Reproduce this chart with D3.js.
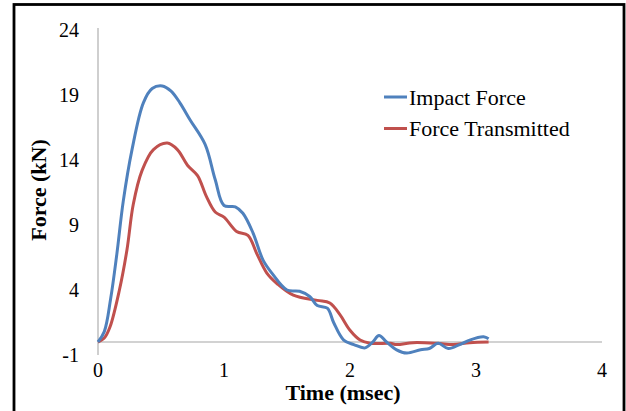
<!DOCTYPE html>
<html>
<head>
<meta charset="utf-8">
<script src="https://cdn.jsdelivr.net/npm/d3@7"></script>
<style>
  body { margin: 0; background: #fff; }
  text { font-family: "Liberation Serif", "Times New Roman", serif; fill: #000; }
</style>
</head>
<body>
<svg width="626" height="411"></svg>
<script>
// impact force curve (time in msec, force in kN)
var impactTime  = [0, 0.05, 0.1, 0.15, 0.2, 0.27, 0.36, 0.43, 0.51, 0.58, 0.65, 0.73, 0.85, 0.93, 1.0, 1.09, 1.15, 1.23, 1.31, 1.38, 1.5, 1.6, 1.68, 1.74, 1.82, 1.87, 1.95, 2.03, 2.12, 2.18, 2.23, 2.29, 2.37, 2.45, 2.56, 2.63, 2.7, 2.78, 2.87, 2.95, 3.06, 3.1];
var impactForce = [0, 0.8, 3.3, 6.8, 10.8, 14.8, 18.4, 19.5, 19.7, 19.3, 18.4, 17.1, 15.2, 12.5, 10.5, 10.4, 9.9, 8.4, 6.3, 5.3, 4.0, 3.9, 3.5, 2.8, 2.6, 1.5, 0.15, -0.2, -0.45, 0, 0.5, 0, -0.6, -0.85, -0.6, -0.5, -0.1, -0.5, -0.2, 0.15, 0.4, 0.25];

// transmitted force curve
var transTime  = [0, 0.05, 0.095, 0.17, 0.23, 0.28, 0.35, 0.44, 0.55, 0.63, 0.71, 0.79, 0.86, 0.93, 1.0, 1.1, 1.19, 1.26, 1.34, 1.42, 1.55, 1.74, 1.84, 1.92, 2.0, 2.08, 2.16, 2.32, 2.37, 2.5, 2.69, 2.82, 2.95, 3.1];
var transForce = [0, 0.3, 1.15, 4, 7.1, 10.6, 13.2, 14.8, 15.3, 14.8, 13.6, 12.8, 11.2, 10.0, 9.6, 8.5, 8.2, 6.8, 5.3, 4.5, 3.6, 3.2, 3.0, 2.1, 0.9, 0.15, -0.1, -0.1, -0.2, -0.05, -0.1, -0.2, -0.05, 0];

var xTicks = [0, 1, 2, 3, 4];
var yTicks = [-1, 4, 9, 14, 19, 24];
var seriesNames = ["Impact Force", "Force Transmitted"];
var colors = ["#4f81bd", "#c0504d"];

var svg = d3.select("svg");

// outer frame
svg.append("rect")
    .attr("x", 14).attr("y", 4.5)
    .attr("width", 610).attr("height", 420)
    .attr("fill", "none")
    .attr("stroke", "#000")
    .attr("stroke-width", 2.8);

var x = d3.scaleLinear().domain([0, 4]).range([98, 602]);
var y = d3.scaleLinear().domain([-1, 24]).range([355, 30]);

// y axis line (gray) and labels
svg.append("line")
    .attr("x1", x(0)).attr("x2", x(0))
    .attr("y1", y(24) - 2).attr("y2", y(-1))
    .attr("stroke", "#bfbfbf").attr("stroke-width", 1.5);

svg.selectAll(".ylab")
    .data(yTicks)
    .enter()
    .append("text")
    .attr("class", "ylab")
    .attr("x", 79)
    .attr("y", function(d) { return y(d); })
    .attr("dy", "0.35em")
    .attr("text-anchor", "end")
    .style("font-size", "20px")
    .text(function(d) { return d; });

// x axis sits at force = 0
svg.append("line")
    .attr("x1", x(0)).attr("x2", x(4))
    .attr("y1", y(0)).attr("y2", y(0))
    .attr("stroke", "#a6a6a6").attr("stroke-width", 1.2);

svg.selectAll(".xlab")
    .data(xTicks)
    .enter()
    .append("text")
    .attr("class", "xlab")
    .attr("x", function(d) { return x(d); })
    .attr("y", 377)
    .attr("text-anchor", "middle")
    .style("font-size", "20px")
    .text(function(d) { return d; });

// axis titles
svg.append("text")
    .attr("x", 343).attr("y", 400)
    .attr("text-anchor", "middle")
    .style("font-size", "22px").style("font-weight", "bold")
    .text("Time (msec)");

svg.append("text")
    .attr("transform", "translate(46,190) rotate(-90)")
    .attr("text-anchor", "middle")
    .style("font-size", "22px").style("font-weight", "bold")
    .text("Force (kN)");

// the two curves, smoothed like the spreadsheet lines
var line = d3.line()
    .x(function(d) { return x(d[0]); })
    .y(function(d) { return y(d[1]); })
    .curve(d3.curveCatmullRom.alpha(0.5));

var series = [d3.zip(impactTime, impactForce), d3.zip(transTime, transForce)];

// red is drawn first so blue sits on top near the start
svg.selectAll(".curve")
    .data([series[1], series[0]])
    .enter()
    .append("path")
    .attr("class", "curve")
    .attr("d", line)
    .attr("fill", "none")
    .attr("stroke", function(d, i) { return colors[1 - i]; })
    .attr("stroke-width", 3)
    .attr("stroke-linejoin", "round");

// legend
var legend = svg.selectAll(".legend")
    .data(seriesNames)
    .enter()
    .append("g")
    .attr("class", "legend")
    .attr("transform", function(d, i) { return "translate(384," + (97 + i * 31.5) + ")"; });

legend.append("line")
    .attr("x1", 0).attr("x2", 23)
    .attr("stroke", function(d, i) { return colors[i]; })
    .attr("stroke-width", 3);

legend.append("text")
    .attr("x", 25)
    .attr("dy", "0.35em")
    .style("font-size", "22px")
    .text(function(d) { return d; });
</script>
</body>
</html>
